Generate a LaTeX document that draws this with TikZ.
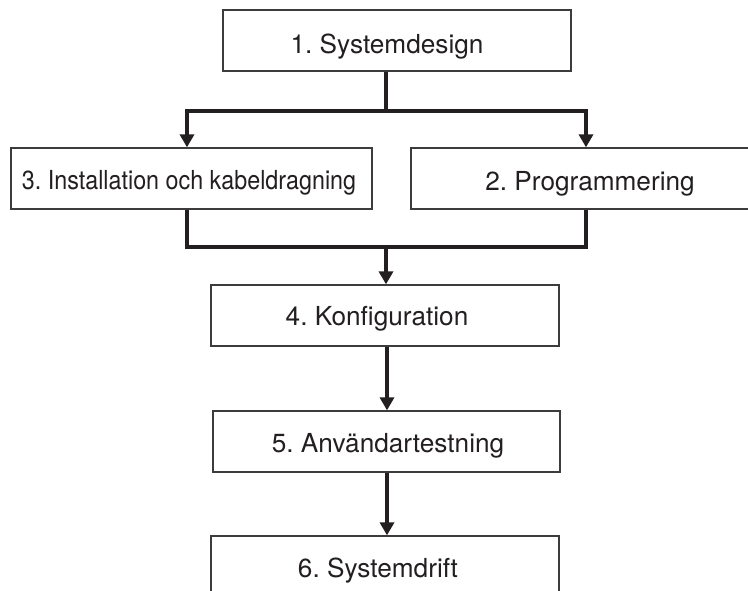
\documentclass[tikz,border=0pt]{standalone}
\usepackage{fontspec}
\setmainfont{TeX Gyre Heros}
\usetikzlibrary{arrows.meta}
\definecolor{ink}{HTML}{231F20}
\definecolor{frame}{HTML}{3C3C3C}
\newcommand{\stagefont}{\frenchspacing\fontsize{26.2pt}{31pt}\selectfont}
\begin{document}
\begin{tikzpicture}[x=1pt,y=-1pt,
  stage/.style={draw=frame,line width=1.3pt,fill=white,rectangle,inner sep=0pt,
    minimum height=61pt},
  steptext/.style={inner sep=0pt,anchor=base,text=ink,font=\stagefont},
  link/.style={draw=ink,line width=4.5pt,line join=miter},
  flow/.style={link,-{Triangle[width=14pt,length=13pt]}}]
\useasboundingbox (0,0) rectangle (748,590);

% boxes
\node[stage,minimum width=348pt] (b1) at (397,40.5) {};
\node[stage,minimum width=361pt] (b3) at (191.5,178.5) {};
\node[stage,minimum width=358pt] (b2) at (590,178.5) {};
\node[stage,minimum width=348pt] (b4) at (385,315.5) {};
\node[stage,minimum width=347pt] (b5) at (386.5,441.5) {};
\node[stage,minimum width=348pt] (b6) at (385,566.5) {};

% labels
\node[steptext] (t1) at (387,53) {1. Systemdesign};
\node[steptext] (t3) at (189,189.5) {\scalebox{0.89}[1]{3. Installation och kabeldragning}};
\node[steptext] (t2) at (590,190) {2. Programmering};
\node[steptext] (t4) at (377,325.5) {4. Konfiguration};
\node[steptext] (t5) at (388,452.3) {5. Användartestning};
\node[steptext] (t6) at (378,577.3) {6. Systemdrift};

% split after system design
\coordinate (s) at (386,111);
\coordinate (sl) at (187,111);
\coordinate (sr) at (586,111);
\draw[link] (s |- b1.south) -- (s);
\draw[flow] (s) -- (sl) -- (sl |- b3.north);
\draw[flow] (s) -- (sr) -- (sr |- b2.north);

% merge into configuration
\coordinate (m) at (386,247);
\coordinate (ml) at (187,247);
\coordinate (mr) at (586,247);
\draw[link] (ml |- b3.south) -- (ml) -- (mr) -- (mr |- b2.south);
\draw[flow] (m) -- (m |- b4.north);

% remaining chain
\coordinate (c) at (387,0);
\draw[flow] (c |- b4.south) -- (c |- b5.north);
\draw[flow] (c |- b5.south) -- (c |- b6.north);
\end{tikzpicture}
\end{document}
